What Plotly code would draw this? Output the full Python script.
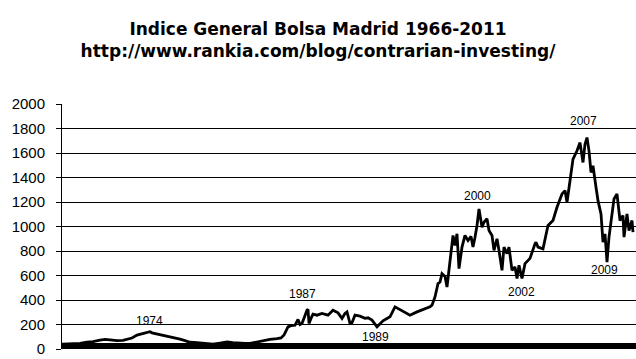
import plotly.graph_objects as go

# Position along the (category) observation axis, and index value
obs = [0, 8, 18, 25, 31, 38, 43, 48, 55, 61, 65, 70, 75, 80, 85, 88, 90, 93, 98, 103,
       108, 113, 118, 123, 128, 135, 141, 146, 151, 158, 165, 171, 178, 183, 188, 195,
       201, 208, 215, 219, 222, 224, 226, 229, 233, 236, 238, 240, 242, 245, 246, 247,
       249, 251, 255, 260, 266, 271, 276, 280, 283, 285, 288, 290, 293, 298, 303, 306,
       310, 315, 321, 328, 333, 338, 343, 348, 355, 363, 368, 370, 373, 376, 378, 380,
       383, 385, 388, 391, 393, 395, 397, 400, 403, 406, 409, 411, 413, 415, 417, 418,
       420, 422, 425, 427, 430, 432, 435, 437, 440, 442, 445, 447, 450, 453, 455, 457,
       460, 463, 468, 473, 474, 476, 481, 486, 491, 495, 500, 503, 505, 508, 511, 515,
       518, 521, 523, 525, 527, 529, 531, 534, 536, 539, 541, 543, 545, 547, 550, 552,
       555, 558, 561, 562, 565, 567, 570, 571]
values = [40, 42, 46, 55, 60, 73, 79, 75, 68, 70, 79, 90, 114, 125, 136, 141, 132, 127, 114, 108,
          100, 90, 80, 68, 55, 52, 46, 44, 40, 48, 57, 52, 46, 46, 46, 58,
          66, 79, 84, 90, 114, 150, 180, 190, 195, 241, 200, 209, 258, 317, 323, 209,
          250, 285, 276, 290, 276, 317, 295, 250, 290, 303, 209, 215, 276, 268, 250, 255,
          236, 181, 230, 263, 344, 323, 300, 276, 303, 331, 344, 358, 425, 534, 547, 615,
          593, 506, 697, 927, 846, 941, 656, 832, 927, 886, 919, 832, 913, 1008, 1144, 1090,
          994, 1035, 1063, 967, 927, 805, 900, 805, 642, 832, 778, 832, 642, 669, 575, 683,
          575, 697, 740, 859, 872, 832, 818, 1008, 1049, 1157, 1266, 1293, 1198, 1374, 1550, 1618,
          1685, 1523, 1672, 1726, 1618, 1441, 1496, 1320, 1211, 1103, 872, 941, 710, 913, 1103, 1225,
          1266, 1049, 1089, 913, 1103, 967, 1049, 954]

year_labels = ["1974", "1987", "1989", "2000", "2002", "2007", "2009"]
label_obs = [87, 240, 313, 415.5, 459, 521, 542.5]
label_vals = [229, 453, 94, 1246, 465, 1861, 644]

y_ticks = list(range(0, 2001, 200))

fig = go.Figure()
fig.add_trace(go.Scatter(x=obs, y=values, mode="lines",
                         line=dict(color="black", width=2.8), showlegend=False,
                         hoverinfo="skip"))

for t, xo, yv in zip(year_labels, label_obs, label_vals):
    fig.add_annotation(x=xo, y=yv, text=t, showarrow=False, xanchor="center",
                       yanchor="middle", font=dict(family="Liberation Sans", size=12, color="black"))

# dense category tick marks along the bottom
fig.add_shape(type="rect", xref="x domain", yref="y", x0=0, x1=1,
              ysizemode="pixel", yanchor=0, y0=0, y1=6,
              fillcolor="black", line=dict(width=0), layer="above")

fig.update_layout(
    width=636, height=359, autosize=False,
    margin=dict(l=62, r=0, t=104, b=10),
    paper_bgcolor="white", plot_bgcolor="white",
    font=dict(family="Liberation Sans", color="black"),
    title=dict(text="<b>Indice General Bolsa Madrid 1966-2011</b><br><b>http://www.rankia.com/blog/contrarian-investing/</b>",
               x=0.5, xref="container", xanchor="center",
               y=1 - 35 / 359, yref="container", yanchor="top",
               font=dict(family="DejaVu Sans", size=17, color="black")),
    xaxis=dict(range=[0, 574], showgrid=False, zeroline=False, showticklabels=False,
               ticks="", showline=False, fixedrange=True),
    yaxis=dict(range=[0, 2000], tickvals=y_ticks, showgrid=True, gridcolor="black",
               gridwidth=1, zeroline=False, showline=True, linecolor="black", linewidth=1,
               ticks="outside", ticklen=5, tickcolor="black", ticklabelstandoff=8,
               fixedrange=True,
               tickfont=dict(family="Liberation Sans", size=15, color="black")),
)

fig.write_html("out.html", config={"displayModeBar": False},
               post_script="document.body.style.margin='0';")
